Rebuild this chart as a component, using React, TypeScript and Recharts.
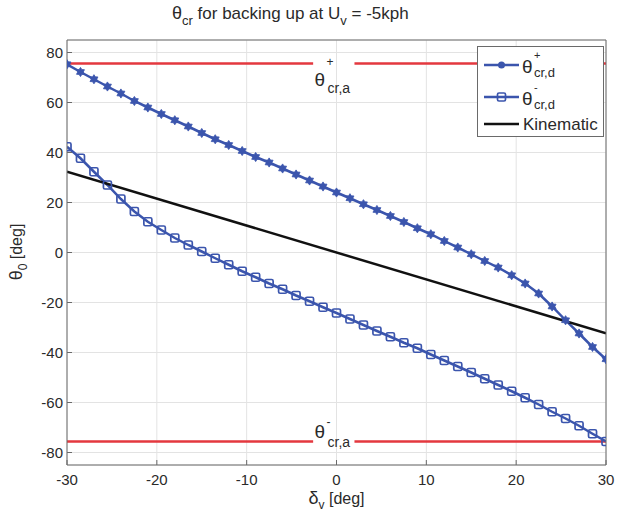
import { LineChart, Line, XAxis, YAxis, CartesianGrid, Legend, ReferenceDot } from 'recharts'

// steering angle samples [deg]
const deltaV = [
  -30, -28.5, -27, -25.5, -24, -22.5, -21, -19.5, -18, -16.5, -15, -13.5, -12, -10.5, -9, -7.5, -6, -4.5, -3, -1.5,
  0, 1.5, 3, 4.5, 6, 7.5, 9, 10.5, 12, 13.5, 15, 16.5, 18, 19.5, 21, 22.5, 24, 25.5, 27, 28.5, 30,
]
// theta+ cr,d
const thetaPlus = [
  75.3, 72.2, 69.3, 66.4, 63.6, 60.6, 58.0, 55.4, 52.9, 50.4, 47.8, 45.3, 43.0, 40.6, 38.2, 36.0, 33.6, 31.2, 28.8, 26.4,
  24.0, 21.7, 19.3, 17.0, 14.6, 12.2, 9.7, 7.3, 4.6, 2.0, -0.7, -3.4, -6.0, -9.1, -12.4, -16.4, -21.6, -27.1, -32.4,
  -37.8, -42.7,
]
// theta- cr,d
const thetaMinus = [
  42.3, 37.7, 32.3, 27.0, 21.4, 16.4, 12.3, 9.0, 5.8, 3.0, 0.4, -2.3, -4.9, -7.5, -9.9, -12.4, -14.7, -17.2, -19.5,
  -21.9, -24.2, -26.6, -29.0, -31.4, -33.7, -36.1, -38.3, -40.8, -43.2, -45.6, -48.0, -50.5, -53.0, -55.5, -58.1,
  -60.8, -63.7, -66.4, -69.3, -72.5, -75.6,
]
const kinematicX = [-30, 30]
const kinematicY = [32.3, -32.3]
// analytic limits theta cr,a, drawn with a gap where the label sits
const thetaCrA = 75.6
const limitX = [-30, -2.6, -0.3, 2, 30]
const xTicks = [-30, -20, -10, 0, 10, 20, 30]
const yTicks = [-80, -60, -40, -20, 0, 20, 40, 60, 80]

const curveData = deltaV.map((d, i) => ({ d, plus: thetaPlus[i], minus: thetaMinus[i] }))
const kinData = kinematicX.map((d, i) => ({ d, k: kinematicY[i] }))
const limitUp = limitX.map((d, i) => ({ d, v: i === 2 ? null : thetaCrA }))
const limitDown = limitX.map((d, i) => ({ d, v: i === 2 ? null : -thetaCrA }))

const W = 617
const H = 517
const PL = 67
const PR = 606
const PT = 40
const PB = 465

const BLUE = '#3b55ad'
const RED = '#e4383f'
const AXIS = '#6a6a6a'
const GRID = '#e3e3e3'
const TXT = '#2a2a2a'
const FONT = '"Liberation Sans", Arial, Helvetica, sans-serif'

function PlusDot(props: any) {
  const { cx, cy, index } = props
  if (cx == null || cy == null) return <g key={index} />
  const pts: string[] = []
  for (let k = 0; k < 12; k++) {
    const r = k % 2 === 0 ? 4.6 : 2.8
    const a = (Math.PI / 6) * k - Math.PI / 2
    pts.push(`${cx + r * Math.cos(a)},${cy + r * Math.sin(a)}`)
  }
  return <polygon key={index} points={pts.join(' ')} fill={BLUE} stroke={BLUE} strokeWidth={0.8} />
}

function MinusDot(props: any) {
  const { cx, cy, index } = props
  if (cx == null || cy == null) return <g key={index} />
  return (
    <rect key={index} x={cx - 4} y={cy - 4} width={8} height={8} rx={1.5} fill="none" stroke={BLUE} strokeWidth={1.7} />
  )
}

function LeftTick(props: any) {
  const c = props.payload.coordinate
  return (
    <g>
      <line x1={PL} x2={PL + 5} y1={c} y2={c} stroke={AXIS} />
      <text x={PL - 4} y={c} dy={5} textAnchor="end" fontSize={15} fill={TXT} fontFamily={FONT}>
        {props.payload.value}
      </text>
    </g>
  )
}

function RightTick(props: any) {
  const c = props.payload.coordinate
  return <line x1={PR - 5} x2={PR} y1={c} y2={c} stroke={AXIS} />
}

function BottomTick(props: any) {
  const c = props.payload.coordinate
  return (
    <g>
      <line x1={c} x2={c} y1={PB - 5} y2={PB} stroke={AXIS} />
      <text x={c} y={PB + 20} textAnchor="middle" fontSize={15} fill={TXT} fontFamily={FONT}>
        {props.payload.value}
      </text>
    </g>
  )
}

function TopTick(props: any) {
  const c = props.payload.coordinate
  return <line x1={c} x2={c} y1={PT} y2={PT + 5} stroke={AXIS} />
}

function TitleLabel() {
  return (
    <text x={172} y={19} fontSize={17} fill={TXT} fontFamily={FONT}>
      <tspan fontSize={18}>θ</tspan>
      <tspan dy={6} fontSize={13}>cr</tspan>
      <tspan dy={-6}> for backing up at U</tspan>
      <tspan dy={6} fontSize={13}>v</tspan>
      <tspan dy={-6}> = -5kph</tspan>
    </text>
  )
}

function XLabel() {
  return (
    <text x={PL + (PR - PL) / 2} y={504} textAnchor="middle" fontSize={16} fill={TXT} fontFamily={FONT}>
      <tspan fontSize={18}>δ</tspan>
      <tspan dy={5} fontSize={12}>v</tspan>
      <tspan dy={-5}> [deg]</tspan>
    </text>
  )
}

function YLabel() {
  return (
    <text
      x={22}
      y={252}
      textAnchor="middle"
      fontSize={16}
      fill={TXT}
      fontFamily={FONT}
      transform="rotate(-90, 22, 252)"
    >
      <tspan fontSize={18}>θ</tspan>
      <tspan dy={5} fontSize={12}>0</tspan>
      <tspan dy={-5}> [deg]</tspan>
    </text>
  )
}

function LimitLabel({ cx, cy, sign }: any) {
  if (cx == null) return null
  const up = sign === '+'
  const tb = up ? cy + 22 : cy - 4
  const sb = up ? cy + 2 : cy - 16
  const bb = up ? cy + 29 : cy + 5
  return (
    <g fontFamily={FONT} fill={TXT}>
      <text x={cx - 22} y={tb} fontSize={19}>
        θ
      </text>
      <text x={cx - 10} y={sb} fontSize={12}>
        {up ? '+' : '-'}
      </text>
      <text x={cx - 9} y={bb} fontSize={14}>
        cr,a
      </text>
    </g>
  )
}

function LegendBox() {
  const rows = [
    { y: 19, kind: 'plus', main: 'θ', sup: '+', sub: 'cr,d' },
    { y: 51, kind: 'minus', main: 'θ', sup: '-', sub: 'cr,d' },
  ]
  return (
    <svg width={127} height={91} style={{ display: 'block' }}>
      <rect x={0.5} y={0.5} width={126} height={90} fill="#fff" stroke={AXIS} />
      {rows.map((r) => (
        <g key={r.kind}>
          <line x1={7} x2={42} y1={r.y} y2={r.y} stroke={BLUE} strokeWidth={2.5} />
          {r.kind === 'plus' ? (
            <circle cx={24.5} cy={r.y} r={3.5} fill={BLUE} />
          ) : (
            <rect x={20.5} y={r.y - 4} width={8} height={8} rx={1.5} fill="none" stroke={BLUE} strokeWidth={1.7} />
          )}
          <text x={45} y={r.y + 8} fontSize={19} fill={TXT} fontFamily={FONT}>
            {r.main}
          </text>
          <text x={57} y={r.y - 6} fontSize={11} fill={TXT} fontFamily={FONT}>
            {r.sup}
          </text>
          <text x={57} y={r.y + 12} fontSize={13} fill={TXT} fontFamily={FONT}>
            {r.sub}
          </text>
        </g>
      ))}
      <line x1={7} x2={42} y1={78} y2={78} stroke="#111" strokeWidth={2.5} />
      <text x={46} y={84} fontSize={17} fill={TXT} fontFamily={FONT}>
        Kinematic
      </text>
    </svg>
  )
}

export default function App() {
  return (
    <div style={{ position: 'absolute', left: 0, top: 0, width: W, height: H, background: '#fff' }}>
      <LineChart width={W} height={H} margin={{ top: 0, right: 0, bottom: 0, left: 0 }}>
        <CartesianGrid stroke={GRID} strokeWidth={1} />
        <XAxis
          dataKey="d"
          type="number"
          domain={[-30, 30]}
          ticks={xTicks}
          height={H - PB}
          axisLine={{ stroke: AXIS }}
          tickLine={false}
          tick={BottomTick}
          allowDataOverflow
          label={<XLabel />}
        />
        <XAxis
          xAxisId="top"
          orientation="top"
          dataKey="d"
          type="number"
          domain={[-30, 30]}
          ticks={xTicks}
          height={PT}
          axisLine={{ stroke: AXIS }}
          tickLine={false}
          tick={TopTick}
          label={<TitleLabel />}
        />
        <YAxis
          type="number"
          domain={[-85, 85]}
          ticks={yTicks}
          width={PL}
          axisLine={{ stroke: AXIS }}
          tickLine={false}
          tick={LeftTick}
          allowDataOverflow
          label={<YLabel />}
        />
        <YAxis
          yAxisId="right"
          orientation="right"
          type="number"
          domain={[-85, 85]}
          ticks={yTicks}
          width={W - PR}
          axisLine={{ stroke: AXIS }}
          tickLine={false}
          tick={RightTick}
        />
        <Legend
          layout="vertical"
          align="center"
          verticalAlign="middle"
          content={() => <LegendBox />}
          wrapperStyle={{ left: 477, top: 46, width: 127, height: 91 }}
        />
        <Line
          data={limitUp}
          dataKey="v"
          stroke={RED}
          strokeWidth={2.6}
          dot={false}
          connectNulls={false}
          isAnimationActive={false}
          legendType="none"
        />
        <Line
          data={limitDown}
          dataKey="v"
          stroke={RED}
          strokeWidth={2.6}
          dot={false}
          connectNulls={false}
          isAnimationActive={false}
          legendType="none"
        />
        <Line
          data={curveData}
          dataKey="plus"
          stroke={BLUE}
          strokeWidth={2.5}
          dot={PlusDot}
          isAnimationActive={false}
        />
        <Line
          data={curveData}
          dataKey="minus"
          stroke={BLUE}
          strokeWidth={2.5}
          dot={MinusDot}
          isAnimationActive={false}
        />
        <Line data={kinData} dataKey="k" stroke="#111" strokeWidth={2.5} dot={false} isAnimationActive={false} />
        <ReferenceDot x={0} y={thetaCrA} r={0} shape={(p: any) => <LimitLabel {...p} sign="+" />} />
        <ReferenceDot x={0} y={-thetaCrA} r={0} shape={(p: any) => <LimitLabel {...p} sign="-" />} />
      </LineChart>
    </div>
  )
}
